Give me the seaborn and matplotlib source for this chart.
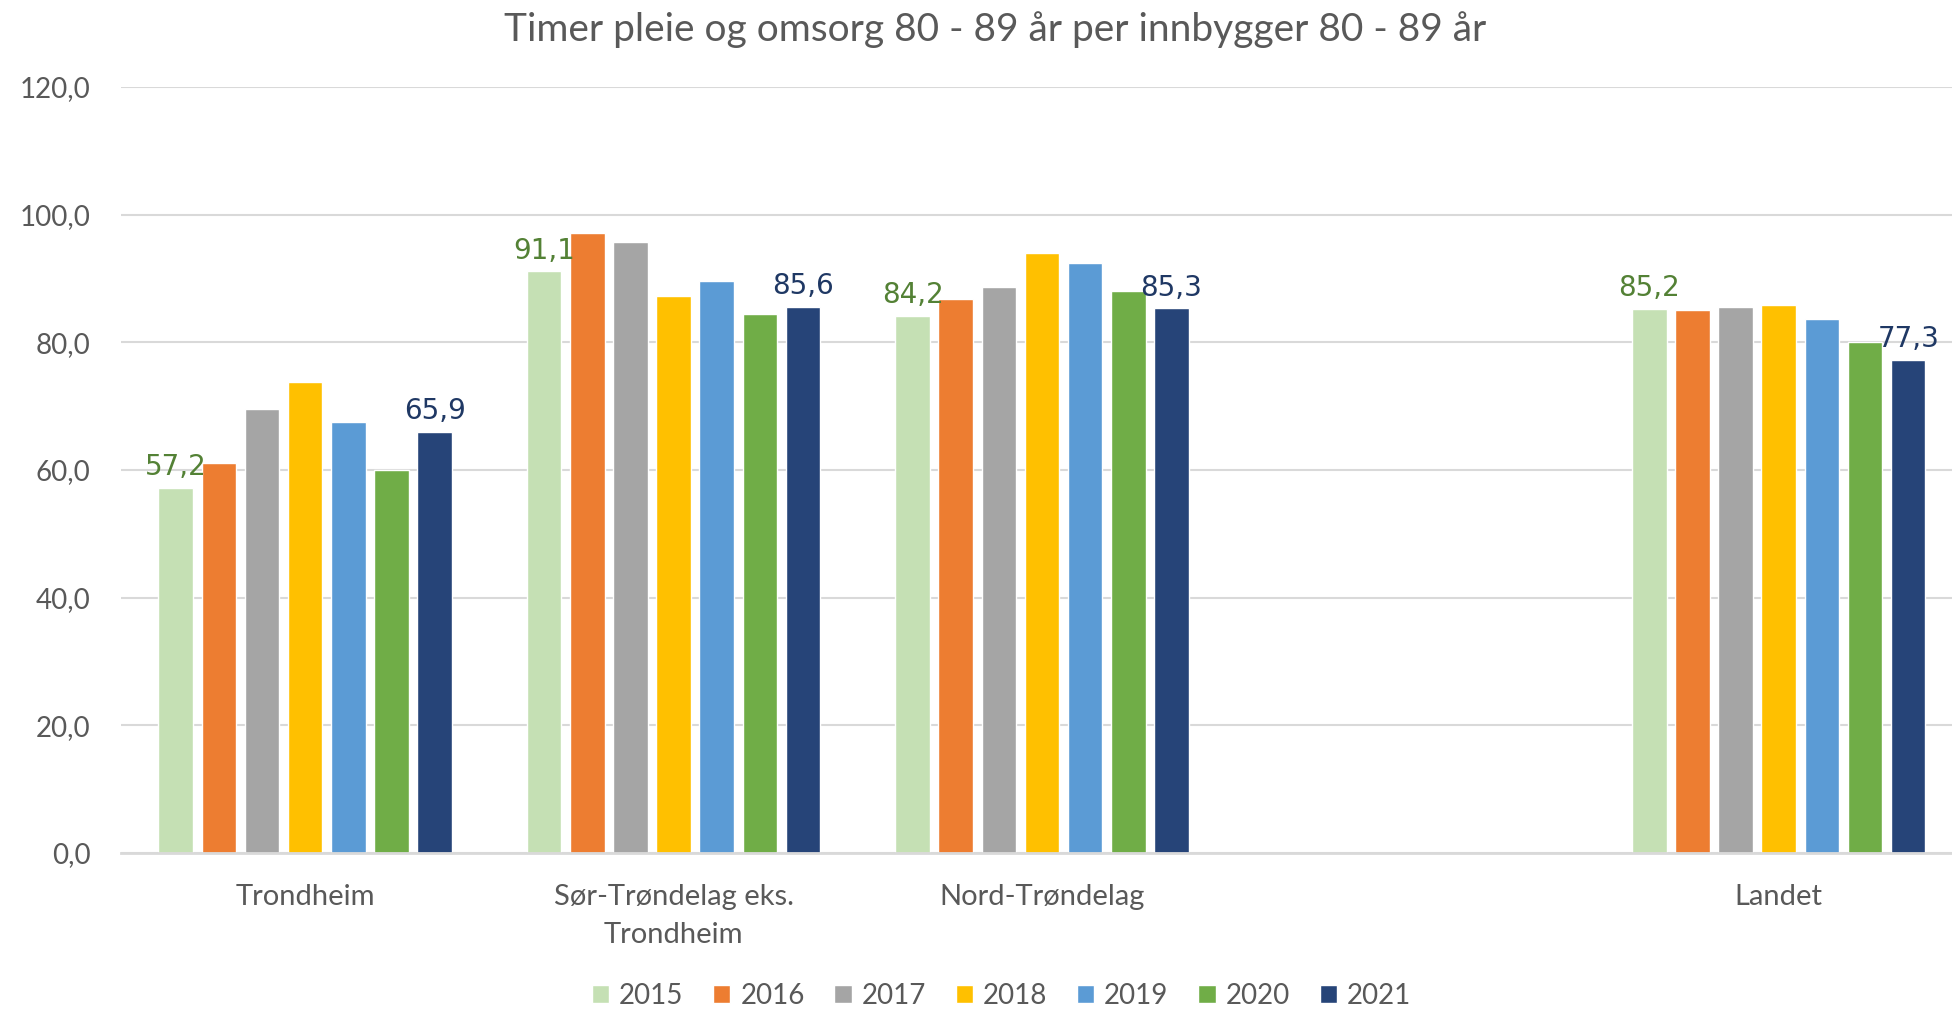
import matplotlib
matplotlib.use('Agg')
import matplotlib.pyplot as plt
import seaborn as sns
import pandas as pd
from matplotlib.ticker import FuncFormatter

# Data
regions = ['Trondheim', 'Sør-Trøndelag eks.\nTrondheim', 'Nord-Trøndelag', '', 'Landet']
years = ['2015', '2016', '2017', '2018', '2019', '2020', '2021']
trondheim = [57.2, 61.1, 69.5, 73.8, 67.5, 60.0, 65.9]
sor_trondelag = [91.1, 97.1, 95.7, 87.2, 89.6, 84.4, 85.6]
nord_trondelag = [84.2, 86.8, 88.6, 94.0, 92.4, 88.0, 85.3]
landet = [85.2, 85.0, 85.5, 85.9, 83.6, 80.0, 77.3]
colors = ['#C5E0B4', '#ED7D31', '#A5A5A5', '#FFC000', '#5B9BD5', '#70AD47', '#264478']

rows = []
for region, vals in zip([regions[0], regions[1], regions[2], regions[4]],
                        [trondheim, sor_trondelag, nord_trondelag, landet]):
    for year, v in zip(years, vals):
        rows.append({'region': region, 'year': year, 'value': v})
df = pd.DataFrame(rows)

sns.set_theme(style='white')
plt.rcParams['font.family'] = ['Lato', 'DejaVu Sans']
grey = '#595959'

fig = plt.figure(figsize=(19.52, 10.10), dpi=100)
ax = fig.add_axes([0.062, 0.1554, 0.9436, 0.7585])

sns.barplot(data=df, x='region', y='value', hue='year', order=regions,
            hue_order=years, palette=colors, width=0.82, gap=0.2,
            saturation=1, ax=ax, legend=True)

ax.set_ylim(0, 120)
ax.set_yticks(range(0, 121, 20))
ax.yaxis.set_major_formatter(FuncFormatter(lambda v, p: f'{v:.1f}'.replace('.', ',')))
ax.grid(axis='y', color='#D9D9D9', linewidth=1.5)
ax.set_axisbelow(True)
for s in ['left', 'right', 'top']:
    ax.spines[s].set_visible(False)
ax.spines['bottom'].set_color('#D9D9D9')
ax.spines['bottom'].set_linewidth(2)
ax.tick_params(axis='y', length=0, colors=grey, labelsize=20, pad=22)
ax.tick_params(axis='x', length=0, colors=grey, labelsize=21, pad=22)
for t in ax.get_xticklabels():
    t.set_linespacing(1.6)
ax.set_xlabel('')
ax.set_ylabel('')

# data labels for first and last year
label_colors = {0: '#538135', 6: '#1F3864'}
for idx, col in label_colors.items():
    cont = ax.containers[idx]
    labels = [f'{v:.1f}'.replace('.', ',') for v in cont.datavalues]
    ax.bar_label(cont, labels=labels, padding=5, color=col, fontsize=20,
                 family='DejaVu Sans')

fig.suptitle('Timer pleie og omsorg 80 - 89 år per innbygger 80 - 89 år',
             x=0.51, y=0.971, va='center', fontsize=28, color=grey)

handles, lbls = ax.get_legend_handles_labels()
ax.legend(handles, lbls, loc='center', bbox_to_anchor=(0.513, 0.014),
          bbox_transform=fig.transFigure, ncol=7, frameon=False,
          fontsize=20, labelcolor=grey, handlelength=0.62, handleheight=0.62,
          handletextpad=0.36, columnspacing=1.07)

fig.savefig('out.png', dpi=100)
